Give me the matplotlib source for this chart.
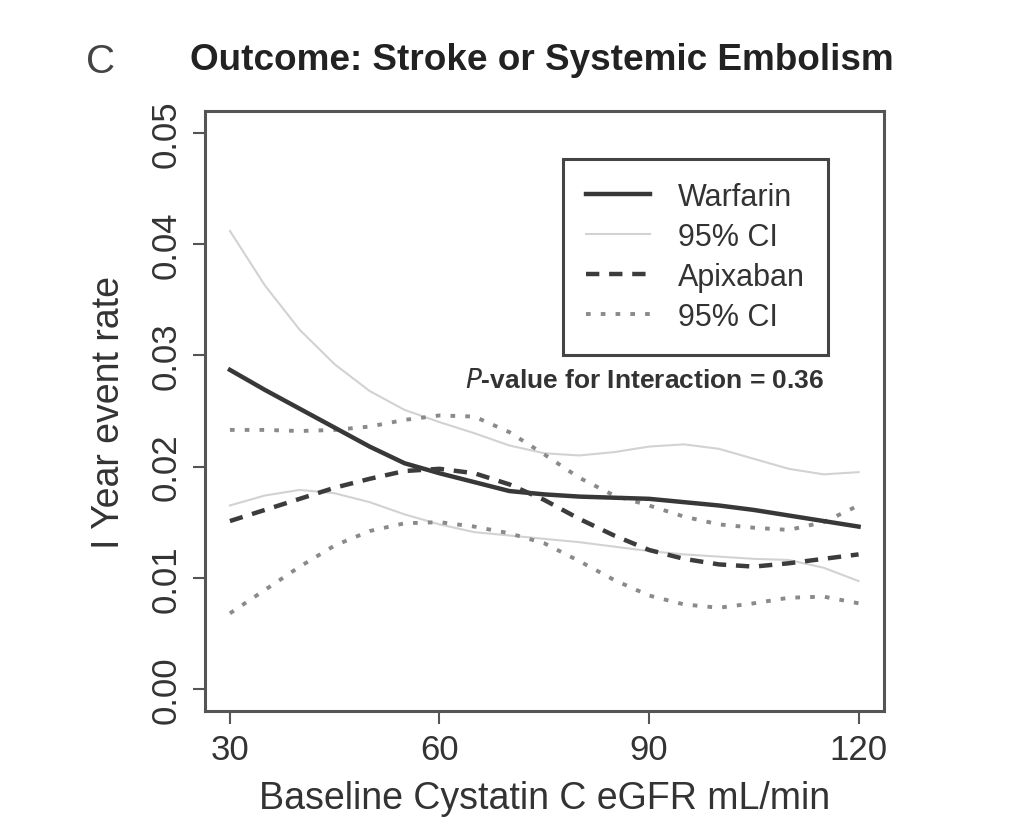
import matplotlib
matplotlib.use("Agg")
import matplotlib.pyplot as plt

plt.rcParams['font.family'] = ['Liberation Sans', 'DejaVu Sans']

# Baseline Cystatin C eGFR (mL/min)
egfr = [30, 35, 40, 45, 50, 55, 60, 65, 70, 75, 80, 85, 90, 95, 100, 105, 110, 115, 120]

# 1-year event rates
warfarin = [0.0287, 0.0269, 0.0252, 0.0235, 0.0218, 0.0203, 0.0194, 0.0186, 0.0178, 0.0175,
            0.0173, 0.0172, 0.0171, 0.0168, 0.0165, 0.0161, 0.0156, 0.0151, 0.0146]
warfarin_hi = [0.0412, 0.0363, 0.0323, 0.0292, 0.0268, 0.0251, 0.0240, 0.0230, 0.0219, 0.0212,
               0.0210, 0.0213, 0.0218, 0.0220, 0.0216, 0.0207, 0.0198, 0.0193, 0.0195]
warfarin_lo = [0.0165, 0.0174, 0.0179, 0.0176, 0.0168, 0.0157, 0.0148, 0.0141, 0.0138, 0.0135,
               0.0132, 0.0128, 0.0124, 0.0121, 0.0119, 0.0117, 0.0116, 0.0109, 0.0097]
apixaban = [0.0151, 0.0161, 0.0171, 0.0181, 0.0189, 0.0196, 0.0198, 0.0194, 0.0184, 0.0170,
            0.0153, 0.0138, 0.0125, 0.0117, 0.0112, 0.0110, 0.0113, 0.0117, 0.0121]
apixaban_hi = [0.0233, 0.0233, 0.0232, 0.0233, 0.0236, 0.0242, 0.0246, 0.0245, 0.0231, 0.0211,
               0.0190, 0.0174, 0.0165, 0.0155, 0.0148, 0.0145, 0.0143, 0.0150, 0.0165]
apixaban_lo = [0.0068, 0.0089, 0.0110, 0.0129, 0.0142, 0.0149, 0.0150, 0.0146, 0.0140, 0.0131,
               0.0115, 0.0098, 0.0084, 0.0076, 0.0073, 0.0077, 0.0082, 0.0083, 0.0077]

fig = plt.figure(figsize=(10.24, 8.29), dpi=100)
ax = fig.add_axes([0.200, 0.141, 0.663, 0.724])

ci_w = dict(color='#d2d2d2', lw=1.5)
ci_a = dict(color='#8a8a8a', lw=2.8, linestyle=(0, (1.2, 2.6)))

ax.plot(egfr, warfarin_hi, **ci_w)
ax.plot(egfr, warfarin_lo, **ci_w)
ax.plot(egfr, apixaban_hi, **ci_a)
ax.plot(egfr, apixaban_lo, **ci_a)
l1, = ax.plot(egfr, warfarin, color='#383838', lw=3.2)
l3, = ax.plot(egfr, apixaban, color='#3c3c3c', lw=3.2, linestyle=(0, (3, 2.2)))
l2, = ax.plot([], [], **ci_w)
l4, = ax.plot([], [], **ci_a)

ax.set_xlim(26.4, 123.6)
ax.set_ylim(-0.002, 0.052)
ax.set_xticks([30, 60, 90, 120])
ax.set_yticks([0.00, 0.01, 0.02, 0.03, 0.04, 0.05])
ax.set_yticklabels(['0.00', '0.01', '0.02', '0.03', '0.04', '0.05'], rotation=90, va='center')
ax.tick_params(labelsize=25, length=9, width=1.5, color='#555555', labelcolor='#333333', pad=7)
for s in ax.spines.values():
    s.set_linewidth(2.2)
    s.set_color('#555555')

ax.set_xlabel('Baseline Cystatin C eGFR mL/min', fontsize=27, color='#333333', labelpad=10)
ax.set_ylabel('I Year event rate', fontsize=27, color='#333333', labelpad=16)

fig.text(0.529, 0.927, 'Outcome: Stroke or Systemic Embolism', fontsize=26.6, fontweight='bold',
         ha='center', va='center', color='#222222')
fig.text(0.098, 0.925, 'C', fontsize=29, ha='center', va='center', color='#444444')

leg = ax.legend([l1, l2, l3, l4], ['Warfarin', '95% CI', 'Apixaban', '95% CI'],
                loc='upper right', bbox_to_anchor=(0.9175, 0.92), borderaxespad=0,
                fontsize=22, handlelength=2.1, handletextpad=0.9, borderpad=0.75,
                labelspacing=0.33, fancybox=False, framealpha=1, edgecolor='#444444')
leg.get_frame().set_linewidth(2.2)
for t in leg.get_texts():
    t.set_color('#333333')

ax.text(0.913, 0.552, r'$\it{P}$-value for Interaction = 0.36', transform=ax.transAxes,
        ha='right', va='center', fontsize=19, fontweight='bold', color='#333333')

fig.savefig('out.png', dpi=100)
